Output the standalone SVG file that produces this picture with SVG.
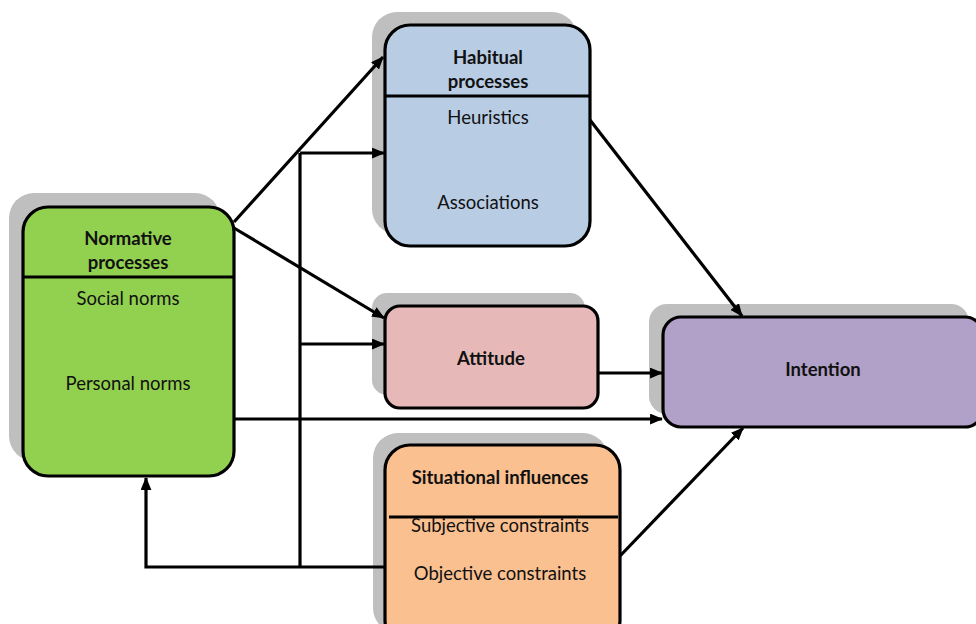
<svg xmlns="http://www.w3.org/2000/svg" width="976" height="624" viewBox="0 0 976 624">
<defs>
<style>
.shadow{fill:#bfbfbf;stroke:none}
.box{stroke:#000;stroke-width:3.2}
.div{stroke:#000;stroke-width:3}
.t{font-family:Lato,"Open Sans","Liberation Sans",sans-serif;font-size:18.5px;fill:#111;text-anchor:middle;dominant-baseline:central}
.b{font-weight:bold}
.c{fill:none;stroke:#000;stroke-width:3.2}
</style>
<marker id="ah" viewBox="0 0 12 10" refX="11" refY="5" markerWidth="13" markerHeight="11" markerUnits="userSpaceOnUse" orient="auto">
<path d="M0,0 L12,5 L0,10 Z" fill="#000"/>
</marker>
</defs>
<rect width="976" height="624" fill="#fff"/>

<g id="normative">
<rect class="shadow" x="9" y="193" width="211" height="268" rx="25"/>
<rect class="box" x="23" y="207" width="211" height="269" rx="25" fill="#92d050"/>
<line class="div" x1="23" y1="277" x2="234" y2="277"/>
<text class="t b" x="128" y="238">Normative</text>
<text class="t b" x="128" y="262">processes</text>
<text class="t" x="128" y="298">Social norms</text>
<text class="t" x="128" y="383">Personal norms</text>
</g>

<g id="habitual">
<rect class="shadow" x="372" y="12" width="205" height="222" rx="25"/>
<rect class="box" x="385" y="25" width="205" height="221" rx="25" fill="#b8cce4"/>
<line class="div" x1="385" y1="96" x2="590" y2="96"/>
<text class="t b" x="488" y="57">Habitual</text>
<text class="t b" x="488" y="81">processes</text>
<text class="t" x="488" y="117">Heuristics</text>
<text class="t" x="488" y="202">Associations</text>
</g>

<g id="attitude">
<rect class="shadow" x="372" y="293" width="213" height="102" rx="15"/>
<rect class="box" x="385" y="306" width="213" height="102" rx="15" fill="#e6b9b8"/>
<text class="t b" x="491" y="358">Attitude</text>
</g>

<g id="situational">
<rect class="shadow" x="373" y="433" width="235" height="200" rx="25"/>
<rect class="box" x="385" y="445" width="235" height="200" rx="25" fill="#fac090"/>
<line class="div" x1="389" y1="517" x2="618" y2="517"/>
<text class="t b" x="500" y="477">Situational influences</text>
<text class="t" x="500" y="525">Subjective constraints</text>
<text class="t" x="500" y="573">Objective constraints</text>
</g>

<g id="intention">
<rect class="shadow" x="649" y="304" width="320" height="110" rx="18"/>
<rect class="box" x="663" y="317" width="320" height="110" rx="18" fill="#b1a0c7"/>
<text class="t b" x="823" y="369">Intention</text>
</g>

<g id="connectors">
<line class="c" x1="234" y1="222" x2="383" y2="57" marker-end="url(#ah)"/>
<line class="c" x1="234" y1="228" x2="384" y2="318" marker-end="url(#ah)"/>
<line class="c" x1="234" y1="419" x2="662" y2="419" marker-end="url(#ah)"/>
<line class="c" x1="300" y1="153" x2="300" y2="567"/>
<line class="c" x1="300" y1="153" x2="384" y2="153" marker-end="url(#ah)"/>
<line class="c" x1="300" y1="344" x2="384" y2="344" marker-end="url(#ah)"/>
<polyline class="c" points="385,567 146,567 146,478" marker-end="url(#ah)"/>
<line class="c" x1="598" y1="373" x2="662" y2="373" marker-end="url(#ah)"/>
<line class="c" x1="590" y1="120" x2="742" y2="316" marker-end="url(#ah)"/>
<line class="c" x1="620" y1="556" x2="743" y2="428" marker-end="url(#ah)"/>
</g>
</svg>
